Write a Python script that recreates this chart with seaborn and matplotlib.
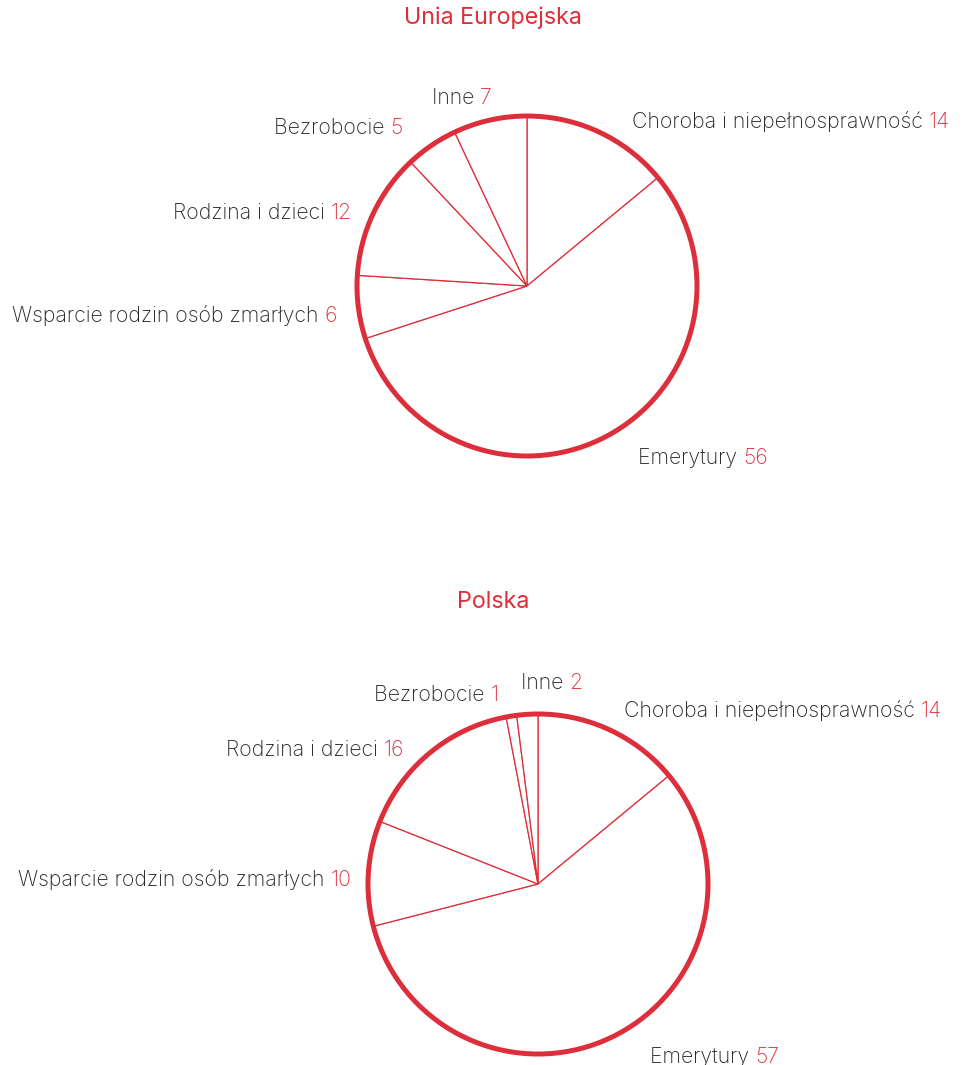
import matplotlib
matplotlib.use("Agg")
import matplotlib.pyplot as plt
from matplotlib.patches import Circle
import seaborn as sns

sns.set_theme(style="white")
plt.rcParams["font.family"] = ["Inter", "DejaVu Sans"]

# Social protection expenditure by function, % of total
categories = [
    "Choroba i niepełnosprawność",
    "Emerytury",
    "Wsparcie rodzin osób zmarłych",
    "Rodzina i dzieci",
    "Bezrobocie",
    "Inne",
]
eu_values = [14, 56, 6, 12, 5, 7]
pl_values = [14, 57, 10, 16, 1, 2]
titles = ["Unia Europejska", "Polska"]

RED = "#DD2F3B"
GREY = "#262626"

W, H = 967, 1065
R_PX = 170          # pie radius in pixels
PAD = 1.1           # axis half-range in pie radii

fig = plt.figure(figsize=(W / 100, H / 100), dpi=100)

# pie centres (pixels from top-left) and label anchors (in pie radii)
centres = [(527, 286), (538, 884)]
label_pos = [
    [(0.618, 0.982), (0.653, -1.0), (-3.029, -0.159),
     (-2.082, 0.441), (-1.488, 0.941), (-0.559, 1.118)],
    [(0.506, 1.035), (0.659, -1.006), (-3.059, 0.041),
     (-1.835, 0.80), (-0.965, 1.124), (-0.10, 1.194)],
]
title_y = [18, 602]


def draw_pie(ax, values, positions):
    ax.pie(values, startangle=90, counterclock=False,
           colors=["white"] * len(values),
           wedgeprops=dict(edgecolor=RED, linewidth=0.9))
    ax.add_patch(Circle((0, 0), 1.0, fill=False, edgecolor=RED,
                        linewidth=3.6, zorder=5))
    ax.set_xlim(-PAD, PAD)
    ax.set_ylim(-PAD, PAD)
    ax.set_aspect("equal")
    ax.axis("off")
    for name, val, (x, y) in zip(categories, values, positions):
        t = ax.text(x, y, name + " ", color=GREY, fontsize=15.3,
                    fontweight="light", ha="left", va="center_baseline")
        ax.annotate(str(val), xy=(1, 0), xycoords=t, color=RED,
                    fontsize=15.3, fontweight="light",
                    ha="left", va="bottom")


for (cx, cy), vals, pos, title, ty in zip(centres, [eu_values, pl_values],
                                          label_pos, titles, title_y):
    half = R_PX * PAD
    ax = fig.add_axes([(cx - half) / W, (H - cy - half) / H,
                       2 * half / W, 2 * half / H])
    draw_pie(ax, vals, pos)
    fig.text(493 / W, 1 - ty / H, title, color=RED, fontsize=16.8,
             fontweight="normal", ha="center", va="center")

fig.savefig("out.png", dpi=100, facecolor="white")
